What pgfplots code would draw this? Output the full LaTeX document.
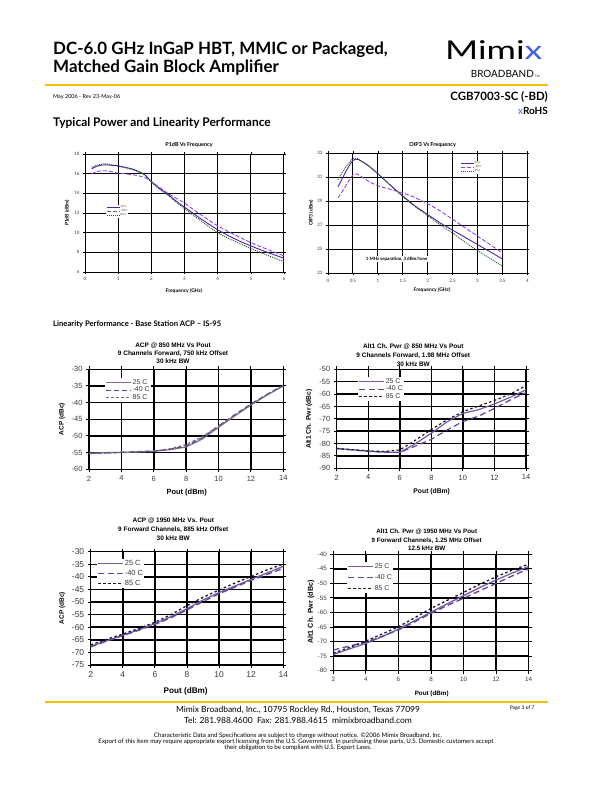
\documentclass[border=0pt]{standalone}
\usepackage{fontspec}
\setmainfont{Lato}
\newfontfamily\arial{Liberation Sans}
\usepackage{pgfplots}
\pgfplotsset{compat=1.18}
\definecolor{ylw}{HTML}{F2C200}
\definecolor{mblue}{HTML}{3F5FE8}
\definecolor{pA}{HTML}{4E26A6}
\definecolor{pB}{HTML}{9040F0}
\definecolor{gC}{HTML}{1F5A1F}
\definecolor{qA}{HTML}{7A5BAA}
\definecolor{qB}{HTML}{5E45A0}
\definecolor{qC}{HTML}{1A1A1A}
\definecolor{qG}{HTML}{707070}
\definecolor{qM}{HTML}{806A8C}
\definecolor{tk}{HTML}{3A3A3A}
\pgfplotsset{
 topchart/.style={scale only axis, anchor=north west, grid=major,
   major grid style={black, line width=1pt}, axis line style={black, line width=1pt},
   tick align=outside, major tick length=2bp, tick style={black, line width=0.6pt},
   tick label style={font=\fontsize{4.5}{5}\selectfont, text=tk},
   /pgf/number format/assume math mode=true,
   legend cell align=left,
   legend style={draw=none, fill=white, inner sep=0.3bp, nodes={inner sep=0.4bp}, font=\fontsize{2.8}{3}\selectfont, text=tk, row sep=-0.6bp},
   legend image code/.code={\draw[#1] (0bp,0bp) -- (13bp,0bp);}},
 botchart/.style={scale only axis, anchor=north west, grid=major,
   major grid style={black, line width=1.5pt}, axis line style={black, line width=1.5pt},
   tick align=outside, major tick length=3bp, tick style={black, line width=1pt},
   tick label style={font=\arial\fontsize{7.5}{8}\selectfont, text=tk},
   /pgf/number format/assume math mode=true,
   xmin=2, xmax=14, xtick={2,4,...,14},
   legend cell align=left,
   legend style={draw=none, fill=white, inner sep=0.5bp, nodes={inner sep=0.8bp}, font=\arial\fontsize{7}{8}\selectfont, text=tk, row sep=-0.5bp},
   legend image code/.code={\draw[#1] (0bp,0bp) -- (25bp,0bp);}},
 s25/.style={pA, line width=0.9pt, smooth},
 s40/.style={pB, line width=0.9pt, smooth, dash pattern=on 4bp off 2bp},
 s85/.style={gC, line width=0.9pt, smooth, dash pattern=on 1bp off 1bp},
}
\begin{document}
\begin{tikzpicture}
\path[use as bounding box] (0,0) rectangle (612bp,-792bp);
\fill[white] (0,0) rectangle (612bp,-792bp);
% ---------------- header
\node[anchor=base west, font=\bfseries\fontsize{17}{17}\selectfont, inner sep=0] at (53bp,-54bp) {DC-6.0 GHz InGaP HBT, MMIC or Packaged,};
\node[anchor=base west, font=\bfseries\fontsize{17}{17}\selectfont, inner sep=0] at (53bp,-72bp) {Matched Gain Block Amplifier};
\node[anchor=base west, font=\fontsize{26}{26}\selectfont, inner sep=0] at (445bp,-59bp) {\scalebox{1.38}[1]{Mimi\textcolor{mblue}{x}}};
\node[anchor=base east, font=\fontsize{10}{10}\selectfont, inner sep=0] at (534bp,-77bp) {BROADBAND};
\node[anchor=base west, font=\fontsize{3}{3}\selectfont, inner sep=0] at (535bp,-77bp) {TM};
\fill[ylw] (45bp,-84bp) rectangle (548bp,-86bp);
\node[anchor=base west, font=\fontsize{5.5}{6}\selectfont, inner sep=0] at (53bp,-98bp) {May 2006 - Rev 23-May-06};
\node[anchor=base east, font=\bfseries\fontsize{11.5}{12}\selectfont, inner sep=0] at (548bp,-100bp) {CGB7003-SC (-BD)};
\node[anchor=base east, font=\bfseries\fontsize{10}{10}\selectfont, inner sep=0] at (548bp,-114bp) {\textcolor{mblue}{\mdseries x}RoHS};
\node[anchor=base west, font=\bfseries\fontsize{12}{12}\selectfont, inner sep=0] at (53bp,-126bp) {Typical Power and Linearity Performance};
\node[anchor=base west, font=\bfseries\fontsize{7.7}{8}\selectfont, inner sep=0] at (53bp,-326bp) {Linearity Performance - Base Station ACP -- IS-95};
% ---------------- chart 1
\begin{axis}[topchart, at={(85bp,-154bp)}, width=199bp, height=118bp,
  xmin=0, xmax=6, ymin=6, ymax=18, xtick={0,1,...,6}, ytick={6,8,...,18},
  legend style={at={(0.105,0.568)}, anchor=north west}]
\addplot[s25] coordinates {(0.2,16.5)(0.4,16.8)(0.6,16.9)(0.8,16.85)(1.0,16.8)(1.2,16.65)(1.4,16.5)(1.6,16.25)(1.8,15.9)(2.0,15.2)(2.25,14.5)(2.5,13.9)(2.75,13.2)(3.0,12.6)(3.5,11.4)(4.0,10.3)(4.5,9.4)(5.0,8.65)(5.5,8.0)(6.0,7.4)};
\addlegendentry{25 C}
\addplot[s40] coordinates {(0.2,16.0)(0.4,16.25)(0.6,16.3)(0.8,16.2)(1.0,16.05)(1.2,16.0)(1.4,15.9)(1.6,15.8)(1.8,15.6)(2.0,15.2)(2.25,14.6)(2.5,14.0)(2.75,13.5)(3.0,13.0)(3.5,11.8)(4.0,10.7)(4.5,9.8)(5.0,9.0)(5.5,8.3)(6.0,7.65)};
\addlegendentry{-40 C}
\addplot[s85] coordinates {(0.2,16.65)(0.4,16.9)(0.6,17.0)(0.8,16.9)(1.0,16.75)(1.2,16.6)(1.4,16.45)(1.6,16.2)(1.8,15.85)(2.0,15.15)(2.25,14.4)(2.5,13.8)(2.75,13.1)(3.0,12.45)(3.5,11.2)(4.0,10.0)(4.5,9.15)(5.0,8.4)(5.5,7.7)(6.0,7.05)};
\addlegendentry{85 C}
\end{axis}
\node[font=\bfseries\fontsize{5.5}{6}\selectfont] at (189bp,-145bp) {P1dB Vs Frequency};
\node[font=\bfseries\fontsize{5}{6}\selectfont] at (184bp,-291bp) {Frequency (GHz)};
\node[font=\bfseries\fontsize{5}{6}\selectfont, rotate=90] at (67bp,-213bp) {P1dB (dBm)};
% ---------------- chart 2
\begin{axis}[topchart, at={(328bp,-153.3bp)}, width=199.3bp, height=120bp,
  xmin=0, xmax=4, ymin=23, ymax=33, xtick={0,0.5,...,4}, ytick={23,25,...,33},
  xticklabels={0,0.5,1,1.5,2,2.5,3,3.5,4},
  legend style={at={(0.662,0.936)}, anchor=north west}]
\addplot[s25] coordinates {(0.2,30.2)(0.3,31.0)(0.4,31.8)(0.5,32.4)(0.55,32.5)(0.6,32.5)(0.8,32.0)(1.0,31.3)(1.25,30.35)(1.5,29.45)(1.75,28.6)(2.0,27.9)(2.25,27.2)(2.5,26.6)(2.75,26.0)(3.0,25.4)(3.25,24.8)(3.5,24.2)};
\addlegendentry{25 C}
\addplot[s40] coordinates {(0.2,29.3)(0.3,29.9)(0.4,30.6)(0.5,31.2)(0.55,31.3)(0.6,31.25)(0.8,30.7)(1.0,30.3)(1.25,30.0)(1.5,29.7)(1.75,29.3)(2.0,28.8)(2.25,28.2)(2.5,27.5)(2.75,26.8)(3.0,26.1)(3.25,25.4)(3.5,24.7)};
\addlegendentry{-40 C}
\addplot[s85] coordinates {(0.2,30.8)(0.3,31.5)(0.4,32.1)(0.5,32.55)(0.55,32.6)(0.6,32.55)(0.8,32.0)(1.0,31.3)(1.25,30.35)(1.5,29.4)(1.75,28.55)(2.0,27.8)(2.25,27.05)(2.5,26.35)(2.75,25.6)(3.0,24.9)(3.25,24.25)(3.5,23.6)};
\addlegendentry{85 C}
\end{axis}
\node[font=\bfseries\fontsize{5.5}{6}\selectfont] at (432.7bp,-145bp) {OIP3 Vs Frequency};
\node[font=\bfseries\fontsize{5}{6}\selectfont] at (432bp,-290bp) {Frequency (GHz)};
\node[font=\bfseries\fontsize{5}{6}\selectfont, rotate=90] at (311bp,-213bp) {OIP3 (dBm)};
\node[font=\bfseries\fontsize{4.5}{5}\selectfont, fill=white, inner sep=1bp] at (396.7bp,-259.3bp) {1 MHz separation, 3 dBm/tone};
% ---------------- chart 3
\begin{axis}[botchart, at={(89bp,-369.3bp)}, width=194.3bp, height=100bp,
  ymin=-60, ymax=-30, ytick={-60,-55,...,-30},
  legend style={at={(0.082,0.913)}, anchor=north west}]
\addplot[qM, line width=1.2pt] coordinates {(2,-55.2)(3,-55.0)(4,-54.9)(5,-54.8)(6,-54.6)(7,-54.1)(8,-53.3)(9,-50.9)(10,-47.4)(11,-44.0)(12,-40.7)(13,-37.7)(14,-35.0)};
\addlegendentry{25 C}
\addplot[qB, line width=1.2pt, dash pattern=on 5bp off 3bp] coordinates {(2,-55.2)(4,-54.9)(6,-54.5)(7,-54.0)(8,-53.0)(9,-50.5)(10,-47.0)(11,-43.6)(12,-40.4)(13,-37.5)(14,-34.8)};
\addlegendentry{-40 C}
\addplot[qG, line width=1.2pt, dash pattern=on 2.5bp off 2.5bp] coordinates {(2,-55.3)(4,-55.0)(6,-54.6)(7,-53.8)(8,-52.6)(9,-50.2)(10,-47.0)(11,-43.8)(12,-40.6)(13,-37.6)(14,-35.0)};
\addlegendentry{85 C}
\end{axis}
\node[font=\arial\bfseries\fontsize{6.5}{7}\selectfont] at (173bp,-346bp) {ACP @ 850 MHz Vs Pout};
\node[font=\arial\bfseries\fontsize{6.5}{7}\selectfont] at (173bp,-354bp) {9 Channels Forward, 750 kHz Offset};
\node[font=\arial\bfseries\fontsize{6.5}{7}\selectfont] at (173bp,-361.5bp) {30 kHz BW};
\node[font=\arial\bfseries\fontsize{7.5}{8}\selectfont] at (186.7bp,-492.7bp) {Pout (dBm)};
\node[font=\arial\bfseries\fontsize{6.5}{7}\selectfont, rotate=90] at (62bp,-419bp) {ACP (dBc)};
% ---------------- chart 4
\begin{axis}[botchart, at={(336.7bp,-369.3bp)}, width=189.3bp, height=99bp,
  ymin=-90, ymax=-50, ytick={-90,-85,...,-50},
  legend style={at={(0.113,0.922)}, anchor=north west}]
\addplot[qA, line width=1.2pt] coordinates {(2,-82)(3,-82.5)(4,-83)(5,-83.4)(6,-83.6)(7,-80.0)(8,-75.8)(9,-71.2)(10,-67.8)(11,-66.3)(12,-64.0)(13,-61.3)(14,-58.3)};
\addlegendentry{25 C}
\addplot[qB, line width=1.2pt, dash pattern=on 6bp off 3.5bp] coordinates {(2,-82)(3,-82.6)(4,-83.2)(5,-83.5)(6,-83.6)(7,-81.0)(8,-78.3)(9,-74.5)(10,-71.1)(11,-68.9)(12,-65.8)(13,-62.4)(14,-59.4)};
\addlegendentry{-40 C}
\addplot[qC, line width=1.2pt, dash pattern=on 2.5bp off 2.5bp] coordinates {(2,-82)(3,-82.5)(4,-83.0)(5,-83.2)(6,-82.6)(7,-78.6)(8,-74.3)(9,-70.4)(10,-67.1)(11,-64.8)(12,-62.6)(13,-60.0)(14,-56.6)};
\addlegendentry{85 C}
\end{axis}
\node[font=\arial\bfseries\fontsize{6.5}{7}\selectfont] at (413.3bp,-346.7bp) {Alt1 Ch. Pwr @ 850 MHz Vs Pout};
\node[font=\arial\bfseries\fontsize{6.5}{7}\selectfont] at (413.3bp,-355.5bp) {9 Channels Forward, 1.98 MHz Offset};
\node[font=\arial\bfseries\fontsize{6.5}{7}\selectfont] at (413.3bp,-364bp) {30 kHz BW};
\node[font=\arial\bfseries\fontsize{6.8}{7}\selectfont] at (431.7bp,-491.7bp) {Pout (dBm)};
\node[font=\arial\bfseries\fontsize{6.8}{7}\selectfont, rotate=90] at (309bp,-419bp) {Alt1 Ch. Pwr (dBc)};
% ---------------- chart 5
\begin{axis}[botchart, at={(90.7bp,-551.7bp)}, width=192.6bp, height=113.3bp,
  ymin=-75, ymax=-30, ytick={-75,-70,...,-30},
  tick label style={font=\arial\fontsize{8.5}{9}\selectfont},
  legend style={at={(0.033,0.936)}, anchor=north west, font=\arial\fontsize{7.5}{8}\selectfont, row sep=1.5bp}]
\addplot[qA, line width=1.3pt] coordinates {(2,-67.6)(3,-65.4)(4,-63.2)(5,-61.0)(6,-58.6)(7,-55.8)(8,-52.6)(9,-49.2)(10,-46.2)(11,-43.6)(12,-41.0)(13,-38.4)(14,-35.8)};
\addlegendentry{25 C}
\addplot[qB, line width=1.3pt, dash pattern=on 6bp off 3.5bp] coordinates {(2,-67.8)(3,-65.5)(4,-63.3)(5,-61.2)(6,-58.9)(7,-56.2)(8,-53.1)(9,-49.8)(10,-46.7)(11,-44.0)(12,-41.4)(13,-39.0)(14,-36.6)};
\addlegendentry{-40 C}
\addplot[qC, line width=1.3pt, dash pattern=on 2.5bp off 2.5bp] coordinates {(2,-67.0)(3,-64.8)(4,-62.7)(5,-60.5)(6,-58.0)(7,-55.0)(8,-51.4)(9,-48.1)(10,-45.2)(11,-42.4)(12,-39.8)(13,-37.2)(14,-34.9)};
\addlegendentry{85 C}
\end{axis}
\node[font=\arial\bfseries\fontsize{6.5}{7}\selectfont] at (173.3bp,-520.7bp) {ACP @ 1950 MHz Vs. Pout};
\node[font=\arial\bfseries\fontsize{6.5}{7}\selectfont] at (173.3bp,-529.3bp) {9 Forward Channels, 885 kHz Offset};
\node[font=\arial\bfseries\fontsize{6.5}{7}\selectfont] at (173.3bp,-538.3bp) {30 kHz BW};
\node[font=\arial\bfseries\fontsize{8.2}{9}\selectfont] at (185.7bp,-691bp) {Pout (dBm)};
\node[font=\arial\bfseries\fontsize{6.5}{7}\selectfont, rotate=90] at (62.3bp,-608bp) {ACP (dBc)};
% ---------------- chart 6
\begin{axis}[botchart, at={(333.3bp,-554.3bp)}, width=195.4bp, height=116.4bp,
  ymin=-80, ymax=-40, ytick={-80,-75,...,-40},
  tick label style={font=\arial\fontsize{6.3}{7}\selectfont},
  legend style={at={(0.07,0.934)}, anchor=north west, row sep=3bp}]
\addplot[qA, line width=1.3pt] coordinates {(2,-74.4)(3,-72.5)(4,-70.6)(5,-68.3)(6,-65.7)(7,-62.8)(8,-59.9)(9,-57.0)(10,-54.2)(11,-51.4)(12,-48.8)(13,-46.4)(14,-44.2)};
\addlegendentry{25 C}
\addplot[qB, line width=1.3pt, dash pattern=on 6bp off 3.5bp] coordinates {(2,-72.9)(3,-71.5)(4,-70.2)(5,-68.2)(6,-66.0)(7,-63.2)(8,-60.3)(9,-57.6)(10,-55.1)(11,-52.5)(12,-50.0)(13,-47.4)(14,-45.0)};
\addlegendentry{-40 C}
\addplot[qC, line width=1.3pt, dash pattern=on 2.5bp off 2.5bp] coordinates {(2,-74.0)(3,-72.0)(4,-69.8)(5,-67.4)(6,-64.9)(7,-61.8)(8,-58.6)(9,-55.8)(10,-53.1)(11,-50.3)(12,-47.7)(13,-45.4)(14,-43.4)};
\addlegendentry{85 C}
\end{axis}
\node[font=\arial\bfseries\fontsize{6.3}{7}\selectfont] at (426.7bp,-531.7bp) {Alt1 Ch. Pwr @ 1950 MHz Vs Pout};
\node[font=\arial\bfseries\fontsize{6.3}{7}\selectfont] at (426.7bp,-540.3bp) {9 Forward Channels, 1.25 MHz Offset};
\node[font=\arial\bfseries\fontsize{6.3}{7}\selectfont] at (426.7bp,-548bp) {12.5 kHz BW};
\node[font=\arial\bfseries\fontsize{6.3}{7}\selectfont] at (431.7bp,-694bp) {Pout (dBm)};
\node[font=\arial\bfseries\fontsize{7.2}{8}\selectfont, rotate=90] at (311bp,-612bp) {Alt1 Ch. Pwr (dBc)};
% ---------------- footer
\fill[ylw] (45bp,-701bp) rectangle (548bp,-703bp);
\node[font=\fontsize{8.5}{9}\selectfont] at (298bp,-710bp) {Mimix Broadband, Inc., 10795 Rockley Rd., Houston, Texas 77099};
\node[font=\fontsize{8.5}{9}\selectfont] at (298bp,-720.7bp) {Tel: 281.988.4600\ \ Fax: 281.988.4615\ \ mimixbroadband.com};
\node[font=\fontsize{5}{6}\selectfont, anchor=east] at (538bp,-708bp) {Page 3 of 7};
\node[font=\fontsize{6.2}{7}\selectfont] at (298bp,-735.7bp) {Characteristic Data and Specifications are subject to change without notice. \textcopyright 2006 Mimix Broadband, Inc.};
\node[font=\fontsize{6.2}{7}\selectfont] at (296bp,-741.7bp) {Export of this item may require appropriate export licensing from the U.S. Government. In purchasing these parts, U.S. Domestic customers accept};
\node[font=\fontsize{6.2}{7}\selectfont] at (298bp,-748bp) {their obligation to be compliant with U.S. Export Laws.};
\end{tikzpicture}
\end{document}
